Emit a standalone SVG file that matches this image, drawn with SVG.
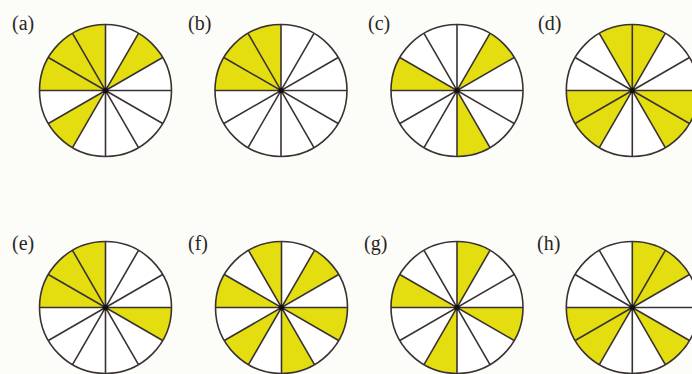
<svg xmlns="http://www.w3.org/2000/svg" width="692" height="374" viewBox="0 0 692 374">
<style>
.bg{fill:#fcfcf9}
.sec{fill:#e4de10;stroke:none}
.face{fill:#ffffff;stroke:none}
.rim{fill:none;stroke:#3a3232;stroke-width:1.6}
.spoke{stroke:#3a3232;stroke-width:1.6;fill:none}
.hub{fill:#111}
.lbl{font-family:"Liberation Serif","Times New Roman",serif;font-size:20px;fill:#2a2424}
</style>
<defs>
<path id="s0" class="sec" d="M0 0L0 -66A66 66 0 0 1 33 -57.16Z"/>
<path id="s1" class="sec" d="M0 0L33 -57.16A66 66 0 0 1 57.16 -33Z"/>
<path id="s2" class="sec" d="M0 0L57.16 -33A66 66 0 0 1 66 0Z"/>
<path id="s3" class="sec" d="M0 0L66 0A66 66 0 0 1 57.16 33Z"/>
<path id="s4" class="sec" d="M0 0L57.16 33A66 66 0 0 1 33 57.16Z"/>
<path id="s5" class="sec" d="M0 0L33 57.16A66 66 0 0 1 0 66Z"/>
<path id="s6" class="sec" d="M0 0L0 66A66 66 0 0 1 -33 57.16Z"/>
<path id="s7" class="sec" d="M0 0L-33 57.16A66 66 0 0 1 -57.16 33Z"/>
<path id="s8" class="sec" d="M0 0L-57.16 33A66 66 0 0 1 -66 0Z"/>
<path id="s9" class="sec" d="M0 0L-66 0A66 66 0 0 1 -57.16 -33Z"/>
<path id="s10" class="sec" d="M0 0L-57.16 -33A66 66 0 0 1 -33 -57.16Z"/>
<path id="s11" class="sec" d="M0 0L-33 -57.16A66 66 0 0 1 0 -66Z"/>
<circle id="face" class="face" r="66"/>
<g id="lines">
<path class="spoke" d="M0 -66V66M-66 0H66M33 -57.16L-33 57.16M57.16 -33L-57.16 33M57.16 33L-57.16 -33M33 57.16L-33 -57.16"/>
<circle class="rim" r="66"/>
<circle class="hub" r="2.6"/>
</g>
</defs>
<rect class="bg" x="0" y="0" width="692" height="374"/>

<g id="node-a">
<text class="lbl" x="12" y="30">(a)</text>
<g transform="translate(105.5,90.5)">
<use href="#face"/><use href="#s1"/><use href="#s7"/><use href="#s9"/><use href="#s10"/><use href="#s11"/><use href="#lines"/>
</g>
</g>

<g id="node-b">
<text class="lbl" x="188" y="30">(b)</text>
<g transform="translate(281,90.5)">
<use href="#face"/><use href="#s9"/><use href="#s10"/><use href="#s11"/><use href="#lines"/>
</g>
</g>

<g id="node-c">
<text class="lbl" x="368" y="30">(c)</text>
<g transform="translate(457,90.5)">
<use href="#face"/><use href="#s1"/><use href="#s5"/><use href="#s9"/><use href="#lines"/>
</g>
</g>

<g id="node-d">
<text class="lbl" x="538" y="30">(d)</text>
<g transform="translate(632.3,90.5)">
<use href="#face"/><use href="#s0"/><use href="#s11"/><use href="#s3"/><use href="#s4"/><use href="#s7"/><use href="#s8"/><use href="#lines"/>
</g>
</g>

<g id="node-e">
<text class="lbl" x="12" y="250">(e)</text>
<g transform="translate(105.5,307.5)">
<use href="#face"/><use href="#s3"/><use href="#s9"/><use href="#s10"/><use href="#s11"/><use href="#lines"/>
</g>
</g>

<g id="node-f">
<text class="lbl" x="188" y="250">(f)</text>
<g transform="translate(281.5,307.5)">
<use href="#face"/><use href="#s1"/><use href="#s3"/><use href="#s5"/><use href="#s7"/><use href="#s9"/><use href="#s11"/><use href="#lines"/>
</g>
</g>

<g id="node-g">
<text class="lbl" x="364" y="250">(g)</text>
<g transform="translate(457,307.5)">
<use href="#face"/><use href="#s0"/><use href="#s3"/><use href="#s6"/><use href="#s9"/><use href="#lines"/>
</g>
</g>

<g id="node-h">
<text class="lbl" x="537" y="250">(h)</text>
<g transform="translate(632.3,307.5)">
<use href="#face"/><use href="#s0"/><use href="#s1"/><use href="#s4"/><use href="#s7"/><use href="#s8"/><use href="#lines"/>
</g>
</g>
</svg>
